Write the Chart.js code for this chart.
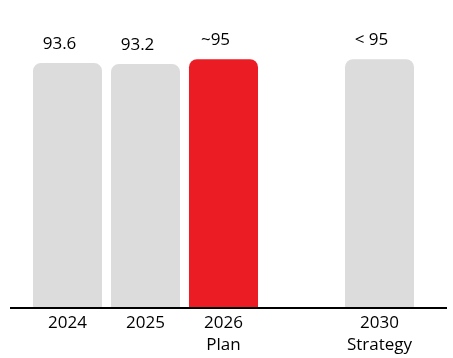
<!DOCTYPE html>
<html>
<head>
<meta charset="utf-8">
<script src="https://cdn.jsdelivr.net/npm/chart.js@4"></script>
<style>
  html, body { margin: 0; padding: 0; background: #fff; }
  #wrap { width: 453px; height: 358px; position: relative; }
</style>
</head>
<body>
<div id="wrap"><canvas id="planChart"></canvas></div>
<script>
var categories = [["2024"], ["2025"], ["2026", "Plan"], [""], ["2030", "Strategy"]];
var values = [93.6, 93.2, 95, null, 95];
var valueLabels = ["93.6", "93.2", "~95", "", "< 95"];
var barColors = ["#dcdcdc", "#dcdcdc", "#ec1c24", "#dcdcdc", "#dcdcdc"];

var fontFamily = "'Open Sans', sans-serif";

// value labels above the bars
var topLabels = {
  id: "topLabels",
  afterDatasetsDraw: function (chart) {
    var ctx = chart.ctx;
    var meta = chart.getDatasetMeta(0);
    ctx.save();
    ctx.font = "17px " + fontFamily;
    ctx.fillStyle = "#000";
    ctx.textAlign = "center";
    ctx.textBaseline = "middle";
    meta.data.forEach(function (bar, i) {
      if (!valueLabels[i]) return;
      ctx.fillText(valueLabels[i], bar.x - 8, bar.y - 19);
    });
    ctx.restore();
  }
};

// baseline that runs wider than the plot area
var baseLine = {
  id: "baseLine",
  afterDatasetsDraw: function (chart) {
    var ctx = chart.ctx;
    var y = chart.scales.y.getPixelForValue(0);
    ctx.save();
    ctx.strokeStyle = "#000";
    ctx.lineWidth = 2;
    ctx.beginPath();
    ctx.moveTo(10, y);
    ctx.lineTo(447, y);
    ctx.stroke();
    ctx.restore();
  }
};

var chart = new Chart(document.getElementById("planChart").getContext("2d"), {
  type: "bar",
  data: {
    labels: categories,
    datasets: [
      {
        data: values,
        backgroundColor: barColors,
        borderWidth: 0,
        borderRadius: { topLeft: 8, topRight: 8, bottomLeft: 0, bottomRight: 0 },
        borderSkipped: false,
        barPercentage: 0.885,
        categoryPercentage: 1
      }
    ]
  },
  options: {
    responsive: true,
    maintainAspectRatio: false,
    animation: false,
    layout: { padding: { left: 28.5, right: 34.5, top: 20, bottom: 0 } },
    plugins: {
      legend: { display: false },
      tooltip: { enabled: false }
    },
    scales: {
      x: {
        grid: { display: false, drawTicks: false },
        border: { display: false },
        afterFit: function (scale) { scale.height = 50; },
        ticks: {
          color: "#000",
          padding: 4,
          font: { family: fontFamily, size: 17, lineHeight: 1.3 }
        }
      },
      y: {
        display: false,
        min: 0,
        max: 110
      }
    }
  },
  plugins: [topLabels, baseLine]
});
</script>
</body>
</html>
